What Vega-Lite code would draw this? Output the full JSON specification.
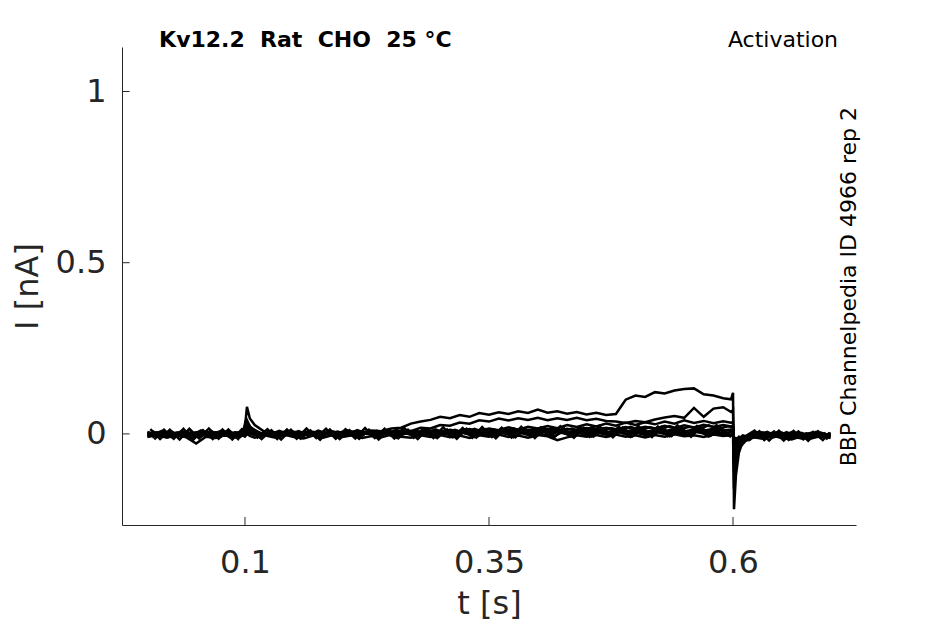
{
  "$schema": "https://vega.github.io/schema/vega-lite/v6.json",
  "autosize": {"type": "none"},
  "width": 734,
  "height": 478,
  "padding": {"left": 122, "top": 47, "right": 89, "bottom": 99},
  "background": "white",
  "config": {
    "view": {"stroke": null},
    "font": "DejaVu Sans",
    "axis": {
      "grid": false,
      "domainColor": "#262626",
      "tickColor": "#262626",
      "labelColor": "#262626",
      "titleColor": "#262626",
      "labelFont": "DejaVu Sans",
      "titleFont": "DejaVu Sans",
      "titleFontWeight": "normal",
      "labelFontSize": 32,
      "titleFontSize": 32,
      "domainWidth": 1
    }
  },
  "layer": [
    {
      "data": {
        "values": [
          {"s":1,"t":0,"I":0.003},{"s":1,"t":0.01,"I":-0.005},{"s":1,"t":0.02,"I":0.002},{"s":1,"t":0.03,"I":-0.003},{"s":1,"t":0.04,"I":0.006},{"s":1,"t":0.05,"I":-0.002},{"s":1,"t":0.06,"I":0.004},{"s":1,"t":0.07,"I":-0.006},{"s":1,"t":0.08,"I":0.001},{"s":1,"t":0.09,"I":-0.004},
          {"s":1,"t":0.098,"I":0.004},{"s":1,"t":0.1,"I":0.03},{"s":1,"t":0.102,"I":0.018},{"s":1,"t":0.105,"I":0.008},{"s":1,"t":0.11,"I":0.002},
          {"s":1,"t":0.12,"I":-0.004},{"s":1,"t":0.13,"I":0.004},{"s":1,"t":0.14,"I":-0.002},{"s":1,"t":0.15,"I":0.005},{"s":1,"t":0.16,"I":-0.003},{"s":1,"t":0.17,"I":0.004},{"s":1,"t":0.18,"I":-0.001},{"s":1,"t":0.19,"I":0.006},{"s":1,"t":0.2,"I":0.001},{"s":1,"t":0.21,"I":0.007},{"s":1,"t":0.22,"I":0.003},{"s":1,"t":0.23,"I":0.01},{"s":1,"t":0.24,"I":0.008},{"s":1,"t":0.25,"I":0.016},{"s":1,"t":0.26,"I":0.018},{"s":1,"t":0.27,"I":0.03},{"s":1,"t":0.28,"I":0.036},{"s":1,"t":0.29,"I":0.041},{"s":1,"t":0.3,"I":0.05},{"s":1,"t":0.31,"I":0.046},{"s":1,"t":0.32,"I":0.055},{"s":1,"t":0.33,"I":0.05},{"s":1,"t":0.34,"I":0.061},{"s":1,"t":0.35,"I":0.056},{"s":1,"t":0.36,"I":0.063},{"s":1,"t":0.37,"I":0.058},{"s":1,"t":0.38,"I":0.066},{"s":1,"t":0.39,"I":0.061},{"s":1,"t":0.4,"I":0.071},{"s":1,"t":0.41,"I":0.062},{"s":1,"t":0.42,"I":0.066},{"s":1,"t":0.43,"I":0.059},{"s":1,"t":0.44,"I":0.064},{"s":1,"t":0.45,"I":0.057},{"s":1,"t":0.46,"I":0.062},{"s":1,"t":0.47,"I":0.055},{"s":1,"t":0.48,"I":0.058},{"s":1,"t":0.49,"I":0.1},{"s":1,"t":0.5,"I":0.112},{"s":1,"t":0.51,"I":0.108},{"s":1,"t":0.52,"I":0.122},{"s":1,"t":0.53,"I":0.118},{"s":1,"t":0.54,"I":0.127},{"s":1,"t":0.55,"I":0.131},{"s":1,"t":0.56,"I":0.133},{"s":1,"t":0.57,"I":0.116},{"s":1,"t":0.58,"I":0.112},{"s":1,"t":0.59,"I":0.104},
          {"s":1,"t":0.598,"I":0.101},{"s":1,"t":0.6,"I":0.12},{"s":1,"t":0.601,"I":-0.22},{"s":1,"t":0.603,"I":-0.12},{"s":1,"t":0.606,"I":-0.055},{"s":1,"t":0.61,"I":-0.022},
          {"s":1,"t":0.62,"I":-0.006},{"s":1,"t":0.63,"I":0.002},{"s":1,"t":0.64,"I":-0.008},{"s":1,"t":0.65,"I":0.001},{"s":1,"t":0.66,"I":-0.006},{"s":1,"t":0.67,"I":0.003},{"s":1,"t":0.68,"I":-0.009},{"s":1,"t":0.69,"I":0},{"s":1,"t":0.7,"I":-0.005},

          {"s":2,"t":0,"I":-0.004},{"s":2,"t":0.01,"I":0.003},{"s":2,"t":0.02,"I":-0.006},{"s":2,"t":0.03,"I":0.002},{"s":2,"t":0.04,"I":-0.002},{"s":2,"t":0.05,"I":0.005},{"s":2,"t":0.06,"I":-0.004},{"s":2,"t":0.07,"I":0.003},{"s":2,"t":0.08,"I":-0.005},{"s":2,"t":0.09,"I":0.004},
          {"s":2,"t":0.098,"I":-0.002},{"s":2,"t":0.1,"I":0.02},{"s":2,"t":0.102,"I":0.079},{"s":2,"t":0.105,"I":0.045},{"s":2,"t":0.11,"I":0.026},
          {"s":2,"t":0.12,"I":0.006},{"s":2,"t":0.13,"I":-0.003},{"s":2,"t":0.14,"I":0.004},{"s":2,"t":0.15,"I":-0.002},{"s":2,"t":0.16,"I":0.005},{"s":2,"t":0.17,"I":-0.004},{"s":2,"t":0.18,"I":0.002},{"s":2,"t":0.19,"I":-0.003},{"s":2,"t":0.2,"I":0.004},{"s":2,"t":0.21,"I":-0.002},{"s":2,"t":0.22,"I":0.005},{"s":2,"t":0.23,"I":0},{"s":2,"t":0.24,"I":0.006},{"s":2,"t":0.25,"I":0.003},{"s":2,"t":0.26,"I":0.01},{"s":2,"t":0.27,"I":0.008},{"s":2,"t":0.28,"I":0.018},{"s":2,"t":0.29,"I":0.016},{"s":2,"t":0.3,"I":0.026},{"s":2,"t":0.31,"I":0.024},{"s":2,"t":0.32,"I":0.033},{"s":2,"t":0.33,"I":0.03},{"s":2,"t":0.34,"I":0.04},{"s":2,"t":0.35,"I":0.036},{"s":2,"t":0.36,"I":0.045},{"s":2,"t":0.37,"I":0.039},{"s":2,"t":0.38,"I":0.046},{"s":2,"t":0.39,"I":0.041},{"s":2,"t":0.4,"I":0.047},{"s":2,"t":0.41,"I":0.04},{"s":2,"t":0.42,"I":0.046},{"s":2,"t":0.43,"I":0.041},{"s":2,"t":0.44,"I":0.047},{"s":2,"t":0.45,"I":0.04},{"s":2,"t":0.46,"I":0.044},{"s":2,"t":0.47,"I":0.038},{"s":2,"t":0.48,"I":0.036},{"s":2,"t":0.49,"I":0.032},{"s":2,"t":0.5,"I":0.038},{"s":2,"t":0.51,"I":0.034},{"s":2,"t":0.52,"I":0.042},{"s":2,"t":0.53,"I":0.048},{"s":2,"t":0.54,"I":0.052},{"s":2,"t":0.55,"I":0.047},{"s":2,"t":0.56,"I":0.076},{"s":2,"t":0.57,"I":0.05},{"s":2,"t":0.58,"I":0.074},{"s":2,"t":0.59,"I":0.078},
          {"s":2,"t":0.598,"I":0.064},{"s":2,"t":0.6,"I":0.07},{"s":2,"t":0.601,"I":-0.11},{"s":2,"t":0.603,"I":-0.07},{"s":2,"t":0.606,"I":-0.036},{"s":2,"t":0.61,"I":-0.015},
          {"s":2,"t":0.62,"I":0.003},{"s":2,"t":0.63,"I":-0.007},{"s":2,"t":0.64,"I":0.002},{"s":2,"t":0.65,"I":-0.01},{"s":2,"t":0.66,"I":-0.002},{"s":2,"t":0.67,"I":-0.008},{"s":2,"t":0.68,"I":0.002},{"s":2,"t":0.69,"I":-0.006},{"s":2,"t":0.7,"I":0.001},

          {"s":3,"t":0,"I":0.006},{"s":3,"t":0.01,"I":-0.002},{"s":3,"t":0.02,"I":0.004},{"s":3,"t":0.03,"I":-0.006},{"s":3,"t":0.04,"I":0.003},{"s":3,"t":0.05,"I":-0.001},{"s":3,"t":0.06,"I":0.005},{"s":3,"t":0.07,"I":-0.003},{"s":3,"t":0.08,"I":0.006},{"s":3,"t":0.09,"I":-0.002},
          {"s":3,"t":0.098,"I":0.002},{"s":3,"t":0.1,"I":0.012},{"s":3,"t":0.102,"I":0.04},{"s":3,"t":0.105,"I":0.022},{"s":3,"t":0.11,"I":0.01},
          {"s":3,"t":0.12,"I":-0.002},{"s":3,"t":0.13,"I":0.005},{"s":3,"t":0.14,"I":-0.003},{"s":3,"t":0.15,"I":0.006},{"s":3,"t":0.16,"I":0},{"s":3,"t":0.17,"I":0.004},{"s":3,"t":0.18,"I":-0.004},{"s":3,"t":0.19,"I":0.007},{"s":3,"t":0.2,"I":-0.001},{"s":3,"t":0.21,"I":0.005},{"s":3,"t":0.22,"I":-0.003},{"s":3,"t":0.23,"I":0.008},{"s":3,"t":0.24,"I":0.002},{"s":3,"t":0.25,"I":0.006},{"s":3,"t":0.26,"I":0},{"s":3,"t":0.27,"I":0.009},{"s":3,"t":0.28,"I":0.003},{"s":3,"t":0.29,"I":0.01},{"s":3,"t":0.3,"I":0.004},{"s":3,"t":0.31,"I":0.012},{"s":3,"t":0.32,"I":0.007},{"s":3,"t":0.33,"I":0.014},{"s":3,"t":0.34,"I":0.008},{"s":3,"t":0.35,"I":0.016},{"s":3,"t":0.36,"I":0.011},{"s":3,"t":0.37,"I":0.019},{"s":3,"t":0.38,"I":0.012},{"s":3,"t":0.39,"I":0.021},{"s":3,"t":0.4,"I":0.016},{"s":3,"t":0.41,"I":0.023},{"s":3,"t":0.42,"I":0.017},{"s":3,"t":0.43,"I":0.026},{"s":3,"t":0.44,"I":0.02},{"s":3,"t":0.45,"I":0.028},{"s":3,"t":0.46,"I":0.022},{"s":3,"t":0.47,"I":0.03},{"s":3,"t":0.48,"I":0.024},{"s":3,"t":0.49,"I":0.033},{"s":3,"t":0.5,"I":0.026},{"s":3,"t":0.51,"I":0.034},{"s":3,"t":0.52,"I":0.028},{"s":3,"t":0.53,"I":0.036},{"s":3,"t":0.54,"I":0.03},{"s":3,"t":0.55,"I":0.04},{"s":3,"t":0.56,"I":0.032},{"s":3,"t":0.57,"I":0.038},{"s":3,"t":0.58,"I":0.031},{"s":3,"t":0.59,"I":0.037},
          {"s":3,"t":0.598,"I":0.033},{"s":3,"t":0.6,"I":0.035},{"s":3,"t":0.601,"I":-0.075},{"s":3,"t":0.603,"I":-0.045},{"s":3,"t":0.606,"I":-0.022},{"s":3,"t":0.61,"I":-0.01},
          {"s":3,"t":0.62,"I":-0.002},{"s":3,"t":0.63,"I":0.005},{"s":3,"t":0.64,"I":-0.004},{"s":3,"t":0.65,"I":0.004},{"s":3,"t":0.66,"I":-0.009},{"s":3,"t":0.67,"I":0.001},{"s":3,"t":0.68,"I":-0.005},{"s":3,"t":0.69,"I":0.004},{"s":3,"t":0.7,"I":-0.008},

          {"s":4,"t":0,"I":-0.007},{"s":4,"t":0.01,"I":0.001},{"s":4,"t":0.02,"I":-0.004},{"s":4,"t":0.03,"I":0.004},{"s":4,"t":0.04,"I":-0.006},{"s":4,"t":0.05,"I":0.002},{"s":4,"t":0.06,"I":-0.003},{"s":4,"t":0.07,"I":0.005},{"s":4,"t":0.08,"I":-0.005},{"s":4,"t":0.09,"I":0.003},
          {"s":4,"t":0.098,"I":-0.004},{"s":4,"t":0.1,"I":0},{"s":4,"t":0.102,"I":0.025},{"s":4,"t":0.105,"I":0.012},{"s":4,"t":0.11,"I":0.004},
          {"s":4,"t":0.12,"I":-0.005},{"s":4,"t":0.13,"I":0.002},{"s":4,"t":0.14,"I":-0.006},{"s":4,"t":0.15,"I":0.003},{"s":4,"t":0.16,"I":-0.003},{"s":4,"t":0.17,"I":0.006},{"s":4,"t":0.18,"I":-0.002},{"s":4,"t":0.19,"I":0.002},{"s":4,"t":0.2,"I":-0.005},{"s":4,"t":0.21,"I":0.004},{"s":4,"t":0.22,"I":-0.001},{"s":4,"t":0.23,"I":0.005},{"s":4,"t":0.24,"I":-0.004},{"s":4,"t":0.25,"I":0.006},{"s":4,"t":0.26,"I":-0.002},{"s":4,"t":0.27,"I":0.004},{"s":4,"t":0.28,"I":-0.001},{"s":4,"t":0.29,"I":0.007},{"s":4,"t":0.3,"I":0},{"s":4,"t":0.31,"I":0.006},{"s":4,"t":0.32,"I":0.001},{"s":4,"t":0.33,"I":0.008},{"s":4,"t":0.34,"I":0.002},{"s":4,"t":0.35,"I":0.009},{"s":4,"t":0.36,"I":0.004},{"s":4,"t":0.37,"I":0.011},{"s":4,"t":0.38,"I":0.005},{"s":4,"t":0.39,"I":0.012},{"s":4,"t":0.4,"I":0.007},{"s":4,"t":0.41,"I":0.014},{"s":4,"t":0.42,"I":0.008},{"s":4,"t":0.43,"I":0.015},{"s":4,"t":0.44,"I":0.01},{"s":4,"t":0.45,"I":0.017},{"s":4,"t":0.46,"I":0.011},{"s":4,"t":0.47,"I":0.018},{"s":4,"t":0.48,"I":0.012},{"s":4,"t":0.49,"I":0.02},{"s":4,"t":0.5,"I":0.014},{"s":4,"t":0.51,"I":0.021},{"s":4,"t":0.52,"I":0.016},{"s":4,"t":0.53,"I":0.024},{"s":4,"t":0.54,"I":0.017},{"s":4,"t":0.55,"I":0.025},{"s":4,"t":0.56,"I":0.019},{"s":4,"t":0.57,"I":0.027},{"s":4,"t":0.58,"I":0.02},{"s":4,"t":0.59,"I":0.026},
          {"s":4,"t":0.598,"I":0.022},{"s":4,"t":0.6,"I":0.024},{"s":4,"t":0.601,"I":-0.05},{"s":4,"t":0.603,"I":-0.03},{"s":4,"t":0.606,"I":-0.015},{"s":4,"t":0.61,"I":-0.006},
          {"s":4,"t":0.62,"I":-0.01},{"s":4,"t":0.63,"I":-0.002},{"s":4,"t":0.64,"I":-0.011},{"s":4,"t":0.65,"I":-0.003},{"s":4,"t":0.66,"I":0.002},{"s":4,"t":0.67,"I":-0.01},{"s":4,"t":0.68,"I":-0.001},{"s":4,"t":0.69,"I":-0.009},{"s":4,"t":0.7,"I":-0.003},

          {"s":5,"t":0,"I":0.001},{"s":5,"t":0.01,"I":-0.006},{"s":5,"t":0.02,"I":0.005},{"s":5,"t":0.03,"I":-0.002},{"s":5,"t":0.04,"I":0.002},{"s":5,"t":0.05,"I":-0.005},{"s":5,"t":0.06,"I":0.006},{"s":5,"t":0.07,"I":-0.001},{"s":5,"t":0.08,"I":0.004},{"s":5,"t":0.09,"I":-0.006},
          {"s":5,"t":0.098,"I":0.003},{"s":5,"t":0.1,"I":0.004},{"s":5,"t":0.102,"I":0.015},{"s":5,"t":0.105,"I":0.006},{"s":5,"t":0.11,"I":-0.002},
          {"s":5,"t":0.12,"I":0.004},{"s":5,"t":0.13,"I":-0.004},{"s":5,"t":0.14,"I":0.006},{"s":5,"t":0.15,"I":-0.002},{"s":5,"t":0.16,"I":0.003},{"s":5,"t":0.17,"I":-0.005},{"s":5,"t":0.18,"I":0.005},{"s":5,"t":0.19,"I":0},{"s":5,"t":0.2,"I":0.006},{"s":5,"t":0.21,"I":-0.003},{"s":5,"t":0.22,"I":0.004},{"s":5,"t":0.23,"I":-0.002},{"s":5,"t":0.24,"I":0.007},{"s":5,"t":0.25,"I":0.001},{"s":5,"t":0.26,"I":0.005},{"s":5,"t":0.27,"I":-0.002},{"s":5,"t":0.28,"I":0.008},{"s":5,"t":0.29,"I":0.002},{"s":5,"t":0.3,"I":0.006},{"s":5,"t":0.31,"I":-0.001},{"s":5,"t":0.32,"I":0.009},{"s":5,"t":0.33,"I":0.003},{"s":5,"t":0.34,"I":0.007},{"s":5,"t":0.35,"I":0},{"s":5,"t":0.36,"I":0.008},{"s":5,"t":0.37,"I":0.004},{"s":5,"t":0.38,"I":0.01},{"s":5,"t":0.39,"I":0.003},{"s":5,"t":0.4,"I":0.009},{"s":5,"t":0.41,"I":0.005},{"s":5,"t":0.42,"I":0.011},{"s":5,"t":0.43,"I":0.004},{"s":5,"t":0.44,"I":0.01},{"s":5,"t":0.45,"I":0.006},{"s":5,"t":0.46,"I":0.012},{"s":5,"t":0.47,"I":0.005},{"s":5,"t":0.48,"I":0.011},{"s":5,"t":0.49,"I":0.007},{"s":5,"t":0.5,"I":0.013},{"s":5,"t":0.51,"I":0.006},{"s":5,"t":0.52,"I":0.012},{"s":5,"t":0.53,"I":0.008},{"s":5,"t":0.54,"I":0.014},{"s":5,"t":0.55,"I":0.007},{"s":5,"t":0.56,"I":0.013},{"s":5,"t":0.57,"I":0.009},{"s":5,"t":0.58,"I":0.015},{"s":5,"t":0.59,"I":0.01},
          {"s":5,"t":0.598,"I":0.013},{"s":5,"t":0.6,"I":0.012},{"s":5,"t":0.601,"I":-0.03},{"s":5,"t":0.603,"I":-0.018},{"s":5,"t":0.606,"I":-0.008},{"s":5,"t":0.61,"I":-0.012},
          {"s":5,"t":0.62,"I":0.004},{"s":5,"t":0.63,"I":-0.006},{"s":5,"t":0.64,"I":0.003},{"s":5,"t":0.65,"I":-0.008},{"s":5,"t":0.66,"I":0.005},{"s":5,"t":0.67,"I":-0.004},{"s":5,"t":0.68,"I":0.003},{"s":5,"t":0.69,"I":-0.011},{"s":5,"t":0.7,"I":0.002},

          {"s":6,"t":0,"I":-0.002},{"s":6,"t":0.01,"I":0.005},{"s":6,"t":0.02,"I":-0.005},{"s":6,"t":0.03,"I":0.001},{"s":6,"t":0.04,"I":-0.003},{"s":6,"t":0.05,"I":0.004},{"s":6,"t":0.06,"I":-0.006},{"s":6,"t":0.07,"I":0.002},{"s":6,"t":0.08,"I":-0.002},{"s":6,"t":0.09,"I":0.005},
          {"s":6,"t":0.098,"I":-0.003},{"s":6,"t":0.1,"I":0.002},{"s":6,"t":0.102,"I":0.008},{"s":6,"t":0.105,"I":0.001},{"s":6,"t":0.11,"I":-0.004},
          {"s":6,"t":0.12,"I":0.003},{"s":6,"t":0.13,"I":-0.006},{"s":6,"t":0.14,"I":0.002},{"s":6,"t":0.15,"I":-0.004},{"s":6,"t":0.16,"I":0.006},{"s":6,"t":0.17,"I":-0.001},{"s":6,"t":0.18,"I":0.004},{"s":6,"t":0.19,"I":-0.005},{"s":6,"t":0.2,"I":0.002},{"s":6,"t":0.21,"I":-0.004},{"s":6,"t":0.22,"I":0.006},{"s":6,"t":0.23,"I":-0.002},{"s":6,"t":0.24,"I":0.003},{"s":6,"t":0.25,"I":-0.005},{"s":6,"t":0.26,"I":0.004},{"s":6,"t":0.27,"I":-0.001},{"s":6,"t":0.28,"I":0.005},{"s":6,"t":0.29,"I":-0.004},{"s":6,"t":0.3,"I":0.002},{"s":6,"t":0.31,"I":-0.003},{"s":6,"t":0.32,"I":0.006},{"s":6,"t":0.33,"I":-0.002},{"s":6,"t":0.34,"I":0.003},{"s":6,"t":0.35,"I":-0.006},{"s":6,"t":0.36,"I":0.004},{"s":6,"t":0.37,"I":-0.001},{"s":6,"t":0.38,"I":0.005},{"s":6,"t":0.39,"I":-0.003},{"s":6,"t":0.4,"I":0.003},{"s":6,"t":0.41,"I":-0.005},{"s":6,"t":0.42,"I":0.006},{"s":6,"t":0.43,"I":-0.001},{"s":6,"t":0.44,"I":0.004},{"s":6,"t":0.45,"I":-0.004},{"s":6,"t":0.46,"I":0.005},{"s":6,"t":0.47,"I":-0.002},{"s":6,"t":0.48,"I":0.007},{"s":6,"t":0.49,"I":-0.001},{"s":6,"t":0.5,"I":0.004},{"s":6,"t":0.51,"I":-0.003},{"s":6,"t":0.52,"I":0.006},{"s":6,"t":0.53,"I":0},{"s":6,"t":0.54,"I":0.005},{"s":6,"t":0.55,"I":-0.002},{"s":6,"t":0.56,"I":0.007},{"s":6,"t":0.57,"I":0.001},{"s":6,"t":0.58,"I":0.004},{"s":6,"t":0.59,"I":-0.001},
          {"s":6,"t":0.598,"I":0.006},{"s":6,"t":0.6,"I":0.004},{"s":6,"t":0.601,"I":-0.02},{"s":6,"t":0.603,"I":-0.012},{"s":6,"t":0.606,"I":-0.016},{"s":6,"t":0.61,"I":-0.004},
          {"s":6,"t":0.62,"I":-0.012},{"s":6,"t":0.63,"I":-0.003},{"s":6,"t":0.64,"I":-0.009},{"s":6,"t":0.65,"I":0.001},{"s":6,"t":0.66,"I":-0.007},{"s":6,"t":0.67,"I":-0.013},{"s":6,"t":0.68,"I":-0.004},{"s":6,"t":0.69,"I":0.002},{"s":6,"t":0.7,"I":-0.007},

          {"s":7,"t":0,"I":-0.009},{"s":7,"t":0.01,"I":-0.003},{"s":7,"t":0.02,"I":-0.011},{"s":7,"t":0.03,"I":-0.004},{"s":7,"t":0.04,"I":-0.01},{"s":7,"t":0.05,"I":-0.028},{"s":7,"t":0.06,"I":-0.008},{"s":7,"t":0.07,"I":-0.012},{"s":7,"t":0.08,"I":-0.003},{"s":7,"t":0.09,"I":-0.01},
          {"s":7,"t":0.098,"I":-0.005},{"s":7,"t":0.1,"I":-0.008},{"s":7,"t":0.102,"I":0},{"s":7,"t":0.105,"I":-0.006},{"s":7,"t":0.11,"I":-0.011},
          {"s":7,"t":0.12,"I":-0.004},{"s":7,"t":0.13,"I":-0.01},{"s":7,"t":0.14,"I":-0.002},{"s":7,"t":0.15,"I":-0.009},{"s":7,"t":0.16,"I":-0.013},{"s":7,"t":0.17,"I":-0.005},{"s":7,"t":0.18,"I":-0.011},{"s":7,"t":0.19,"I":-0.003},{"s":7,"t":0.2,"I":-0.009},{"s":7,"t":0.21,"I":-0.004},{"s":7,"t":0.22,"I":-0.012},{"s":7,"t":0.23,"I":-0.006},{"s":7,"t":0.24,"I":-0.01},{"s":7,"t":0.25,"I":-0.002},{"s":7,"t":0.26,"I":-0.008},{"s":7,"t":0.27,"I":-0.011},{"s":7,"t":0.28,"I":-0.004},{"s":7,"t":0.29,"I":-0.009},{"s":7,"t":0.3,"I":-0.003},{"s":7,"t":0.31,"I":-0.01},{"s":7,"t":0.32,"I":-0.005},{"s":7,"t":0.33,"I":-0.012},{"s":7,"t":0.34,"I":-0.004},{"s":7,"t":0.35,"I":-0.008},{"s":7,"t":0.36,"I":-0.002},{"s":7,"t":0.37,"I":-0.009},{"s":7,"t":0.38,"I":-0.005},{"s":7,"t":0.39,"I":-0.011},{"s":7,"t":0.4,"I":-0.003},{"s":7,"t":0.41,"I":-0.007},{"s":7,"t":0.42,"I":-0.018},{"s":7,"t":0.43,"I":-0.01},{"s":7,"t":0.44,"I":-0.004},{"s":7,"t":0.45,"I":-0.008},{"s":7,"t":0.46,"I":-0.003},{"s":7,"t":0.47,"I":-0.009},{"s":7,"t":0.48,"I":-0.002},{"s":7,"t":0.49,"I":-0.008},{"s":7,"t":0.5,"I":-0.004},{"s":7,"t":0.51,"I":-0.01},{"s":7,"t":0.52,"I":-0.003},{"s":7,"t":0.53,"I":-0.008},{"s":7,"t":0.54,"I":-0.001},{"s":7,"t":0.55,"I":-0.007},{"s":7,"t":0.56,"I":-0.004},{"s":7,"t":0.57,"I":-0.009},{"s":7,"t":0.58,"I":-0.002},{"s":7,"t":0.59,"I":-0.006},
          {"s":7,"t":0.598,"I":-0.003},{"s":7,"t":0.6,"I":-0.004},{"s":7,"t":0.601,"I":-0.014},{"s":7,"t":0.603,"I":-0.02},{"s":7,"t":0.606,"I":-0.011},{"s":7,"t":0.61,"I":-0.016},
          {"s":7,"t":0.62,"I":-0.009},{"s":7,"t":0.63,"I":-0.014},{"s":7,"t":0.64,"I":-0.005},{"s":7,"t":0.65,"I":-0.012},{"s":7,"t":0.66,"I":-0.016},{"s":7,"t":0.67,"I":-0.007},{"s":7,"t":0.68,"I":-0.013},{"s":7,"t":0.69,"I":-0.006},{"s":7,"t":0.7,"I":-0.012},

          {"s":8,"t":0.005,"I":0.008},{"s":8,"t":0.015,"I":-0.006},{"s":8,"t":0.025,"I":0.007},{"s":8,"t":0.035,"I":-0.008},{"s":8,"t":0.045,"I":0.005},{"s":8,"t":0.055,"I":-0.007},{"s":8,"t":0.065,"I":0.009},{"s":8,"t":0.075,"I":-0.005},{"s":8,"t":0.085,"I":0.006},{"s":8,"t":0.095,"I":-0.009},{"s":8,"t":0.105,"I":0.014},{"s":8,"t":0.115,"I":-0.004},{"s":8,"t":0.125,"I":0.007},{"s":8,"t":0.135,"I":-0.008},{"s":8,"t":0.145,"I":0.006},{"s":8,"t":0.155,"I":-0.006},{"s":8,"t":0.165,"I":0.009},{"s":8,"t":0.175,"I":-0.005},{"s":8,"t":0.185,"I":0.007},{"s":8,"t":0.195,"I":-0.007},{"s":8,"t":0.205,"I":0.01},{"s":8,"t":0.215,"I":-0.004},{"s":8,"t":0.225,"I":0.008},{"s":8,"t":0.235,"I":-0.006},{"s":8,"t":0.245,"I":0.011},{"s":8,"t":0.255,"I":-0.003},{"s":8,"t":0.265,"I":0.009},{"s":8,"t":0.275,"I":-0.005},{"s":8,"t":0.285,"I":0.012},{"s":8,"t":0.295,"I":-0.002},{"s":8,"t":0.305,"I":0.01},{"s":8,"t":0.315,"I":-0.004},{"s":8,"t":0.325,"I":0.013},{"s":8,"t":0.335,"I":-0.001},{"s":8,"t":0.345,"I":0.011},{"s":8,"t":0.355,"I":-0.003},{"s":8,"t":0.365,"I":0.014},{"s":8,"t":0.375,"I":0},{"s":8,"t":0.385,"I":0.012},{"s":8,"t":0.395,"I":-0.002},{"s":8,"t":0.405,"I":0.015},{"s":8,"t":0.415,"I":0.001},{"s":8,"t":0.425,"I":0.013},{"s":8,"t":0.435,"I":-0.001},{"s":8,"t":0.445,"I":0.016},{"s":8,"t":0.455,"I":0.002},{"s":8,"t":0.465,"I":0.014},{"s":8,"t":0.475,"I":0},{"s":8,"t":0.485,"I":0.017},{"s":8,"t":0.495,"I":0.003},{"s":8,"t":0.505,"I":0.015},{"s":8,"t":0.515,"I":0.001},{"s":8,"t":0.525,"I":0.018},{"s":8,"t":0.535,"I":0.004},{"s":8,"t":0.545,"I":0.016},{"s":8,"t":0.555,"I":0.002},{"s":8,"t":0.565,"I":0.019},{"s":8,"t":0.575,"I":0.005},{"s":8,"t":0.585,"I":0.017},{"s":8,"t":0.595,"I":0.003},
          {"s":8,"t":0.6,"I":0.014},{"s":8,"t":0.601,"I":-0.045},{"s":8,"t":0.605,"I":-0.018},{"s":8,"t":0.615,"I":-0.006},{"s":8,"t":0.625,"I":0.005},{"s":8,"t":0.635,"I":-0.012},{"s":8,"t":0.645,"I":0.004},{"s":8,"t":0.655,"I":-0.013},{"s":8,"t":0.665,"I":0.003},{"s":8,"t":0.675,"I":-0.011},{"s":8,"t":0.685,"I":0.006},{"s":8,"t":0.695,"I":-0.01},

          {"s":9,"t":0.005,"I":-0.01},{"s":9,"t":0.015,"I":0.004},{"s":9,"t":0.025,"I":-0.009},{"s":9,"t":0.035,"I":0.005},{"s":9,"t":0.045,"I":-0.012},{"s":9,"t":0.055,"I":0.003},{"s":9,"t":0.065,"I":-0.008},{"s":9,"t":0.075,"I":0.006},{"s":9,"t":0.085,"I":-0.011},{"s":9,"t":0.095,"I":0.004},{"s":9,"t":0.105,"I":0.008},{"s":9,"t":0.115,"I":-0.009},{"s":9,"t":0.125,"I":0.005},{"s":9,"t":0.135,"I":-0.01},{"s":9,"t":0.145,"I":0.004},{"s":9,"t":0.155,"I":-0.008},{"s":9,"t":0.165,"I":0.006},{"s":9,"t":0.175,"I":-0.011},{"s":9,"t":0.185,"I":0.003},{"s":9,"t":0.195,"I":-0.009},{"s":9,"t":0.205,"I":0.005},{"s":9,"t":0.215,"I":-0.01},{"s":9,"t":0.225,"I":0.006},{"s":9,"t":0.235,"I":-0.008},{"s":9,"t":0.245,"I":0.004},{"s":9,"t":0.255,"I":-0.011},{"s":9,"t":0.265,"I":0.007},{"s":9,"t":0.275,"I":-0.007},{"s":9,"t":0.285,"I":0.005},{"s":9,"t":0.295,"I":-0.01},{"s":9,"t":0.305,"I":0.006},{"s":9,"t":0.315,"I":-0.008},{"s":9,"t":0.325,"I":0.008},{"s":9,"t":0.335,"I":-0.009},{"s":9,"t":0.345,"I":0.005},{"s":9,"t":0.355,"I":-0.007},{"s":9,"t":0.365,"I":0.007},{"s":9,"t":0.375,"I":-0.01},{"s":9,"t":0.385,"I":0.006},{"s":9,"t":0.395,"I":-0.006},{"s":9,"t":0.405,"I":0.008},{"s":9,"t":0.415,"I":-0.009},{"s":9,"t":0.425,"I":0.005},{"s":9,"t":0.435,"I":-0.007},{"s":9,"t":0.445,"I":0.009},{"s":9,"t":0.455,"I":-0.008},{"s":9,"t":0.465,"I":0.006},{"s":9,"t":0.475,"I":-0.006},{"s":9,"t":0.485,"I":0.008},{"s":9,"t":0.495,"I":-0.009},{"s":9,"t":0.505,"I":0.007},{"s":9,"t":0.515,"I":-0.005},{"s":9,"t":0.525,"I":0.009},{"s":9,"t":0.535,"I":-0.007},{"s":9,"t":0.545,"I":0.006},{"s":9,"t":0.555,"I":-0.006},{"s":9,"t":0.565,"I":0.01},{"s":9,"t":0.575,"I":-0.008},{"s":9,"t":0.585,"I":0.007},{"s":9,"t":0.595,"I":-0.005},
          {"s":9,"t":0.6,"I":-0.002},{"s":9,"t":0.601,"I":-0.16},{"s":9,"t":0.605,"I":-0.045},{"s":9,"t":0.615,"I":-0.014},{"s":9,"t":0.625,"I":0.002},{"s":9,"t":0.635,"I":-0.01},{"s":9,"t":0.645,"I":0.003},{"s":9,"t":0.655,"I":-0.012},{"s":9,"t":0.665,"I":0.001},{"s":9,"t":0.675,"I":-0.009},{"s":9,"t":0.685,"I":0.004},{"s":9,"t":0.695,"I":-0.013},

          {"s":10,"t":0.005,"I":-0.003},{"s":10,"t":0.015,"I":0.009},{"s":10,"t":0.025,"I":-0.001},{"s":10,"t":0.035,"I":0.007},{"s":10,"t":0.045,"I":-0.004},{"s":10,"t":0.055,"I":0.01},{"s":10,"t":0.065,"I":-0.002},{"s":10,"t":0.075,"I":0.008},{"s":10,"t":0.085,"I":0},{"s":10,"t":0.095,"I":0.006},{"s":10,"t":0.105,"I":0.02},{"s":10,"t":0.115,"I":0.003},{"s":10,"t":0.125,"I":-0.003},{"s":10,"t":0.135,"I":0.009},{"s":10,"t":0.145,"I":-0.001},{"s":10,"t":0.155,"I":0.008},{"s":10,"t":0.165,"I":-0.004},{"s":10,"t":0.175,"I":0.01},{"s":10,"t":0.185,"I":0},{"s":10,"t":0.195,"I":0.007},{"s":10,"t":0.205,"I":-0.002},{"s":10,"t":0.215,"I":0.011},{"s":10,"t":0.225,"I":0.001},{"s":10,"t":0.235,"I":0.009},{"s":10,"t":0.245,"I":-0.001},{"s":10,"t":0.255,"I":0.012},{"s":10,"t":0.265,"I":0.002},{"s":10,"t":0.275,"I":0.01},{"s":10,"t":0.285,"I":0},{"s":10,"t":0.295,"I":0.013},{"s":10,"t":0.305,"I":0.003},{"s":10,"t":0.315,"I":0.012},{"s":10,"t":0.325,"I":0.002},{"s":10,"t":0.335,"I":0.015},{"s":10,"t":0.345,"I":0.005},{"s":10,"t":0.355,"I":0.013},{"s":10,"t":0.365,"I":0.004},{"s":10,"t":0.375,"I":0.016},{"s":10,"t":0.385,"I":0.006},{"s":10,"t":0.395,"I":0.014},{"s":10,"t":0.405,"I":0.005},{"s":10,"t":0.415,"I":0.018},{"s":10,"t":0.425,"I":0.008},{"s":10,"t":0.435,"I":0.016},{"s":10,"t":0.445,"I":0.007},{"s":10,"t":0.455,"I":0.019},{"s":10,"t":0.465,"I":0.009},{"s":10,"t":0.475,"I":0.017},{"s":10,"t":0.485,"I":0.01},{"s":10,"t":0.495,"I":0.021},{"s":10,"t":0.505,"I":0.011},{"s":10,"t":0.515,"I":0.019},{"s":10,"t":0.525,"I":0.012},{"s":10,"t":0.535,"I":0.023},{"s":10,"t":0.545,"I":0.013},{"s":10,"t":0.555,"I":0.021},{"s":10,"t":0.565,"I":0.014},{"s":10,"t":0.575,"I":0.025},{"s":10,"t":0.585,"I":0.015},{"s":10,"t":0.595,"I":0.022},
          {"s":10,"t":0.6,"I":0.02},{"s":10,"t":0.601,"I":-0.09},{"s":10,"t":0.605,"I":-0.03},{"s":10,"t":0.615,"I":-0.008},{"s":10,"t":0.625,"I":-0.003},{"s":10,"t":0.635,"I":0.006},{"s":10,"t":0.645,"I":-0.007},{"s":10,"t":0.655,"I":0.005},{"s":10,"t":0.665,"I":-0.009},{"s":10,"t":0.675,"I":0.002},{"s":10,"t":0.685,"I":-0.006},{"s":10,"t":0.695,"I":0.003},

          {"s":11,"t":0.003,"I":0.014},{"s":11,"t":0.013,"I":-0.015},{"s":11,"t":0.023,"I":0.012},{"s":11,"t":0.033,"I":-0.016},{"s":11,"t":0.043,"I":0.015},{"s":11,"t":0.053,"I":-0.013},{"s":11,"t":0.063,"I":0.016},{"s":11,"t":0.073,"I":-0.014},{"s":11,"t":0.083,"I":0.013},{"s":11,"t":0.093,"I":-0.015},{"s":11,"t":0.103,"I":0.03},{"s":11,"t":0.113,"I":-0.01},{"s":11,"t":0.123,"I":0.014},{"s":11,"t":0.133,"I":-0.015},{"s":11,"t":0.143,"I":0.013},{"s":11,"t":0.153,"I":-0.014},{"s":11,"t":0.163,"I":0.016},{"s":11,"t":0.173,"I":-0.012},{"s":11,"t":0.183,"I":0.015},{"s":11,"t":0.193,"I":-0.014},{"s":11,"t":0.203,"I":0.014},{"s":11,"t":0.213,"I":-0.013},{"s":11,"t":0.223,"I":0.017},{"s":11,"t":0.233,"I":-0.012},{"s":11,"t":0.243,"I":0.015},{"s":11,"t":0.253,"I":-0.013},{"s":11,"t":0.263,"I":0.018},{"s":11,"t":0.273,"I":-0.011},{"s":11,"t":0.283,"I":0.016},{"s":11,"t":0.293,"I":-0.012},{"s":11,"t":0.303,"I":0.019},{"s":11,"t":0.313,"I":-0.01},{"s":11,"t":0.323,"I":0.017},{"s":11,"t":0.333,"I":-0.011},{"s":11,"t":0.343,"I":0.02},{"s":11,"t":0.353,"I":-0.009},{"s":11,"t":0.363,"I":0.018},{"s":11,"t":0.373,"I":-0.01},{"s":11,"t":0.383,"I":0.021},{"s":11,"t":0.393,"I":-0.008},{"s":11,"t":0.403,"I":0.019},{"s":11,"t":0.413,"I":-0.009},{"s":11,"t":0.423,"I":0.022},{"s":11,"t":0.433,"I":-0.007},{"s":11,"t":0.443,"I":0.02},{"s":11,"t":0.453,"I":-0.008},{"s":11,"t":0.463,"I":0.023},{"s":11,"t":0.473,"I":-0.006},{"s":11,"t":0.483,"I":0.021},{"s":11,"t":0.493,"I":-0.007},{"s":11,"t":0.503,"I":0.024},{"s":11,"t":0.513,"I":-0.005},{"s":11,"t":0.523,"I":0.022},{"s":11,"t":0.533,"I":-0.006},{"s":11,"t":0.543,"I":0.025},{"s":11,"t":0.553,"I":-0.004},{"s":11,"t":0.563,"I":0.023},{"s":11,"t":0.573,"I":-0.005},{"s":11,"t":0.583,"I":0.026},{"s":11,"t":0.593,"I":-0.003},
          {"s":11,"t":0.6,"I":0.01},{"s":11,"t":0.601,"I":-0.03},{"s":11,"t":0.607,"I":-0.02},{"s":11,"t":0.617,"I":-0.018},{"s":11,"t":0.627,"I":0.008},{"s":11,"t":0.637,"I":-0.019},{"s":11,"t":0.647,"I":0.009},{"s":11,"t":0.657,"I":-0.017},{"s":11,"t":0.667,"I":0.007},{"s":11,"t":0.677,"I":-0.02},{"s":11,"t":0.687,"I":0.008},{"s":11,"t":0.697,"I":-0.016},

          {"s":12,"t":0.007,"I":-0.016},{"s":12,"t":0.017,"I":0.012},{"s":12,"t":0.027,"I":-0.014},{"s":12,"t":0.037,"I":0.015},{"s":12,"t":0.047,"I":-0.017},{"s":12,"t":0.057,"I":0.011},{"s":12,"t":0.067,"I":-0.015},{"s":12,"t":0.077,"I":0.013},{"s":12,"t":0.087,"I":-0.016},{"s":12,"t":0.097,"I":0.014},{"s":12,"t":0.107,"I":0.012},{"s":12,"t":0.117,"I":-0.015},{"s":12,"t":0.127,"I":0.011},{"s":12,"t":0.137,"I":-0.016},{"s":12,"t":0.147,"I":0.012},{"s":12,"t":0.157,"I":-0.014},{"s":12,"t":0.167,"I":0.01},{"s":12,"t":0.177,"I":-0.017},{"s":12,"t":0.187,"I":0.013},{"s":12,"t":0.197,"I":-0.015},{"s":12,"t":0.207,"I":0.011},{"s":12,"t":0.217,"I":-0.014},{"s":12,"t":0.227,"I":0.012},{"s":12,"t":0.237,"I":-0.016},{"s":12,"t":0.247,"I":0.013},{"s":12,"t":0.257,"I":-0.013},{"s":12,"t":0.267,"I":0.012},{"s":12,"t":0.277,"I":-0.015},{"s":12,"t":0.287,"I":0.014},{"s":12,"t":0.297,"I":-0.012},{"s":12,"t":0.307,"I":0.013},{"s":12,"t":0.317,"I":-0.014},{"s":12,"t":0.327,"I":0.015},{"s":12,"t":0.337,"I":-0.011},{"s":12,"t":0.347,"I":0.014},{"s":12,"t":0.357,"I":-0.013},{"s":12,"t":0.367,"I":0.016},{"s":12,"t":0.377,"I":-0.01},{"s":12,"t":0.387,"I":0.015},{"s":12,"t":0.397,"I":-0.012},{"s":12,"t":0.407,"I":0.017},{"s":12,"t":0.417,"I":-0.009},{"s":12,"t":0.427,"I":0.016},{"s":12,"t":0.437,"I":-0.011},{"s":12,"t":0.447,"I":0.018},{"s":12,"t":0.457,"I":-0.008},{"s":12,"t":0.467,"I":0.017},{"s":12,"t":0.477,"I":-0.01},{"s":12,"t":0.487,"I":0.019},{"s":12,"t":0.497,"I":-0.007},{"s":12,"t":0.507,"I":0.018},{"s":12,"t":0.517,"I":-0.009},{"s":12,"t":0.527,"I":0.02},{"s":12,"t":0.537,"I":-0.006},{"s":12,"t":0.547,"I":0.019},{"s":12,"t":0.557,"I":-0.008},{"s":12,"t":0.567,"I":0.021},{"s":12,"t":0.577,"I":-0.005},{"s":12,"t":0.587,"I":0.02},{"s":12,"t":0.597,"I":-0.007},
          {"s":12,"t":0.6,"I":0.005},{"s":12,"t":0.601,"I":-0.06},{"s":12,"t":0.604,"I":-0.03},{"s":12,"t":0.61,"I":-0.012},{"s":12,"t":0.622,"I":0.01},{"s":12,"t":0.632,"I":-0.018},{"s":12,"t":0.642,"I":0.007},{"s":12,"t":0.652,"I":-0.019},{"s":12,"t":0.662,"I":0.009},{"s":12,"t":0.672,"I":-0.016},{"s":12,"t":0.682,"I":0.006},{"s":12,"t":0.692,"I":-0.018},{"s":12,"t":0.699,"I":0.004}
        ]
      },
      "mark": {"type": "line", "color": "black", "strokeWidth": 2.5, "strokeJoin": "miter"},
      "encoding": {
        "x": {
          "field": "t",
          "type": "quantitative",
          "scale": {"domain": [-0.026, 0.726], "nice": false, "zero": false},
          "axis": {
            "values": [0.1, 0.35, 0.6],
            "format": ".2~f",
            "title": "t [s]",
            "ticks": false,
            "labelPadding": 22,
            "titlePadding": 10
          }
        },
        "y": {
          "field": "I",
          "type": "quantitative",
          "scale": {"domain": [-0.266, 1.13], "nice": false, "zero": false},
          "axis": {
            "values": [0, 0.5, 1],
            "format": ".1~f",
            "title": "I [nA]",
            "ticks": false,
            "labelPadding": 16,
            "titlePadding": 11
          }
        },
        "detail": {"field": "s", "type": "nominal"}
      }
    },
    {
      "data": {"values": [{"t": 0.1}, {"t": 0.35}, {"t": 0.6}]},
      "mark": {"type": "rule", "color": "#262626", "strokeWidth": 1},
      "encoding": {
        "x": {"field": "t", "type": "quantitative"},
        "y": {"datum": -0.266, "type": "quantitative"},
        "y2": {"datum": -0.2426}
      }
    },
    {
      "data": {"values": [{"I": 0}, {"I": 0.5}, {"I": 1}]},
      "mark": {"type": "rule", "color": "#262626", "strokeWidth": 1},
      "encoding": {
        "y": {"field": "I", "type": "quantitative"},
        "x": {"datum": -0.026, "type": "quantitative"},
        "x2": {"datum": -0.0182}
      }
    },
    {
      "data": {"values": [{"t": 0.012, "I": 1.15, "label": "Kv12.2\u00a0\u00a0Rat\u00a0\u00a0CHO\u00a0\u00a025\u00a0°C"}]},
      "mark": {"type": "text", "align": "left", "baseline": "middle", "fontSize": 22, "fontWeight": "bold", "font": "DejaVu Sans", "color": "black"},
      "encoding": {
        "x": {"field": "t", "type": "quantitative"},
        "y": {"field": "I", "type": "quantitative"},
        "text": {"field": "label"}
      }
    },
    {
      "data": {"values": [{"t": 0.7076, "I": 1.15, "label": "Activation"}]},
      "mark": {"type": "text", "align": "right", "baseline": "middle", "fontSize": 22, "font": "DejaVu Sans", "color": "black"},
      "encoding": {
        "x": {"field": "t", "type": "quantitative"},
        "y": {"field": "I", "type": "quantitative"},
        "text": {"field": "label"}
      }
    },
    {
      "data": {"values": [{"t": 0.7189, "I": 0.43, "label": "BBP Channelpedia ID 4966 rep 2"}]},
      "mark": {"type": "text", "align": "center", "baseline": "middle", "angle": 270, "fontSize": 22, "font": "DejaVu Sans", "color": "black"},
      "encoding": {
        "x": {"field": "t", "type": "quantitative"},
        "y": {"field": "I", "type": "quantitative"},
        "text": {"field": "label"}
      }
    }
  ]
}
